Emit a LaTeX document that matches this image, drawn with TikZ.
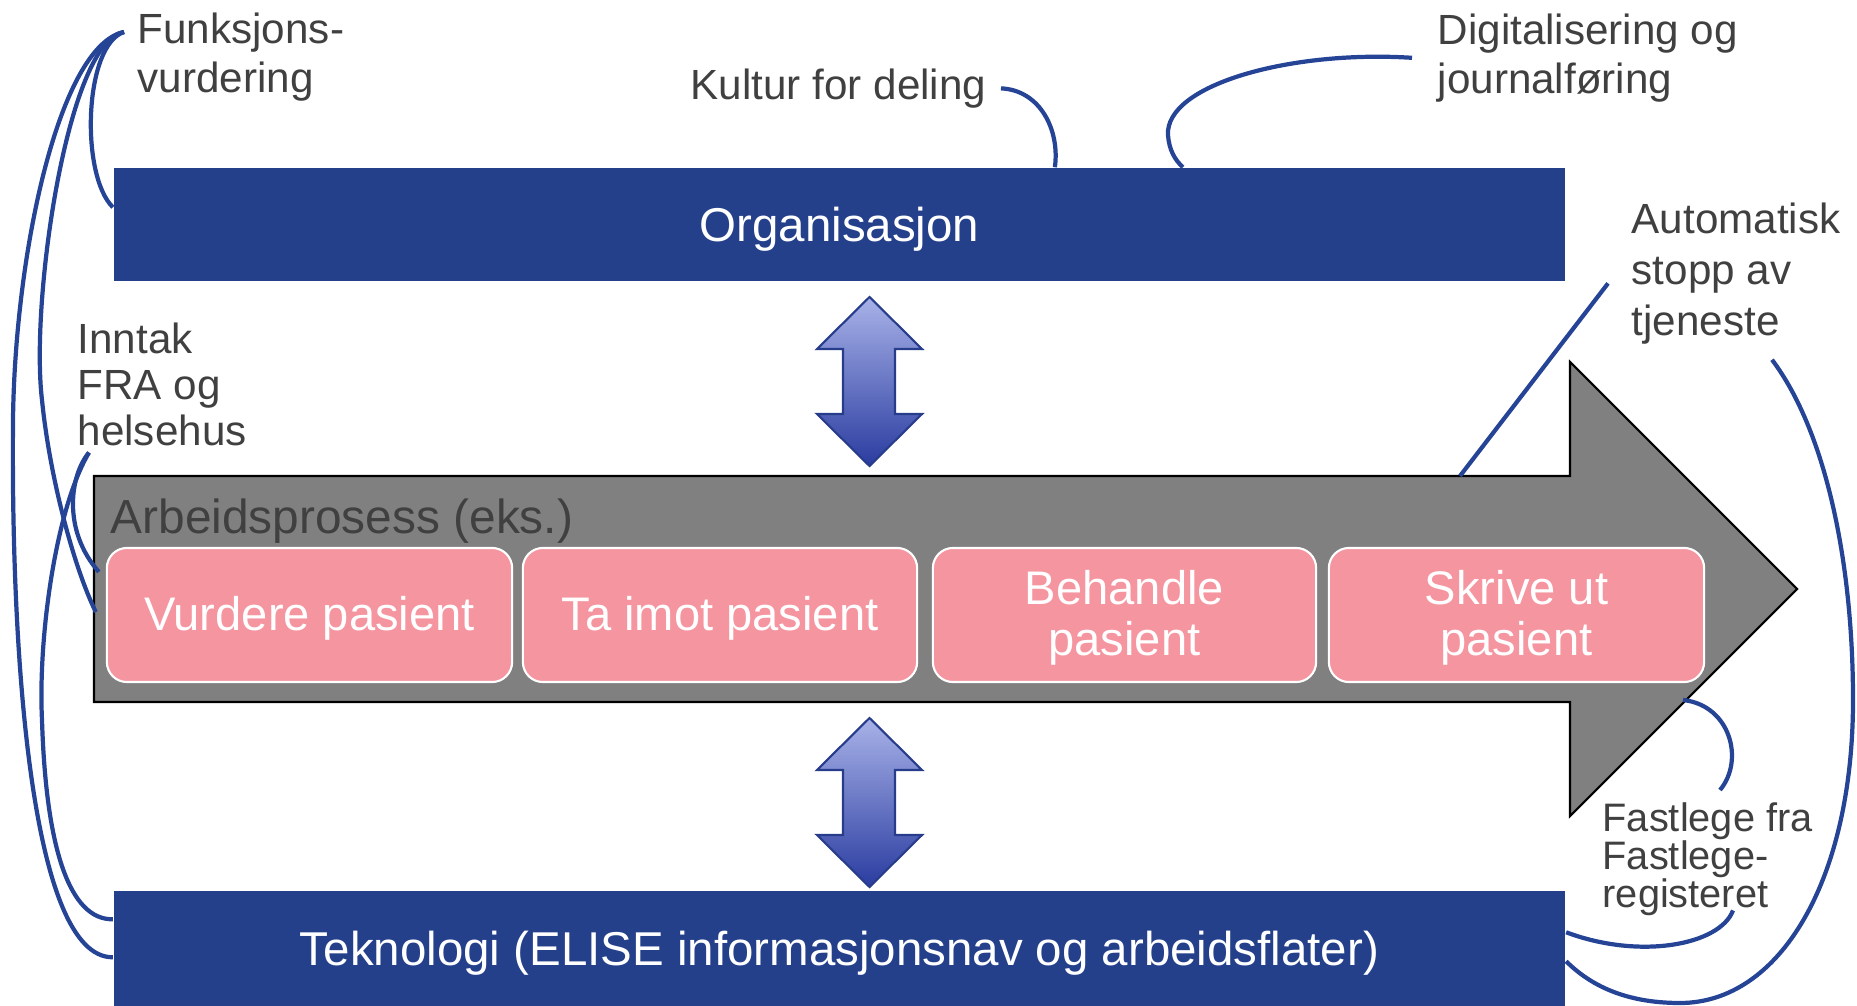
\documentclass[tikz,border=0pt]{standalone}
\usepackage{fontspec}
\setmainfont{Liberation Sans}
\usepackage{xcolor}
\usepackage{tikz}
\usetikzlibrary{calc}
\definecolor{barBlue}{RGB}{36, 64, 139}
\definecolor{linkBlue}{RGB}{38, 68, 150}
\definecolor{stepPink}{RGB}{245, 149, 160}
\definecolor{procGray}{RGB}{128, 128, 128}
\definecolor{noteGray}{RGB}{64, 64, 64}
\definecolor{arrowTop}{RGB}{168, 178, 232}
\definecolor{arrowBottom}{RGB}{42, 60, 160}
\definecolor{arrowEdge}{RGB}{40, 60, 140}
\tikzset{
  barbox/.style={fill=barBlue, text=white, minimum width=14.51cm, minimum height=1.13cm, inner sep=0pt, text depth=0pt, font=\fontsize{13.5}{16}\selectfont},
  stepbox/.style={fill=stepPink, draw=white, line width=0.6pt, rounded corners=0.2cm, text=white, minimum height=1.34cm, inner sep=0pt, text depth=0.04cm, align=center, font=\fontsize{13.4}{14.5}\selectfont},
  note/.style={anchor=north west, inner sep=0pt, align=left, text=noteGray, font=\fontsize{12}{13.9}\selectfont},
  link/.style={draw=linkBlue, line width=1.2pt},
  dblarrow/.style={top color=arrowTop, bottom color=arrowBottom, draw=arrowEdge, line width=0.6pt}
}

\begin{document}
\begin{tikzpicture}[x=0.01cm, y=-0.01cm]
\useasboundingbox (0,0) rectangle (1857,1006);
% Process arrow
\draw[fill=procGray, line width=0.6pt] (94,476) -- (1570,476) -- (1570,362) -- (1797,589) -- (1570,816) -- (1570,702) -- (94,702) -- cycle;
\coordinate (bodyTop) at (1460,476);
\coordinate (headLow) at (1683,700);
\node[anchor=north west, inner sep=0pt, text=noteGray, font=\fontsize{13.6}{16}\selectfont] (prosess) at (110,498) {Arbeidsprosess (eks.)};

% Steps
\node[stepbox, minimum width=4.05cm] (vurdere) at (309.5,615) {Vurdere pasient};
\node[stepbox, minimum width=3.94cm] (taimot) at (720,615) {Ta imot pasient};
\node[stepbox, minimum width=3.83cm] (behandle) at (1124.5,615) {Behandle\\pasient};
\node[stepbox, minimum width=3.75cm] (skrive) at (1516.5,615) {Skrive ut\\pasient};

% Layers
\node[barbox] (orgBar) at (839.5,224.5) {Organisasjon};
\node[barbox, minimum height=1.15cm] (tekBar) at (839.5,948.5) {Teknologi (ELISE informasjonsnav og arbeidsflater)};

% Up/down arrows
\shadedraw[dblarrow] (869.5,297) -- (922,349) -- (895,349) -- (895,414) -- (922,414) -- (869.5,466) -- (817,414) -- (843,414) -- (843,349) -- (817,349) -- cycle;
\shadedraw[dblarrow, shift={(0,421)}] (869.5,297) -- (922,349) -- (895,349) -- (895,414) -- (922,414) -- (869.5,466) -- (817,414) -- (843,414) -- (843,349) -- (817,349) -- cycle;

% Notes
\node[note] (funksjon) at (137,12) {Funksjons-\\vurdering};
\node[note] (kultur) at (690,68) {Kultur for deling};
\node[note] (digital) at (1437,13) {Digitalisering og\\journalføring};
\node[note, font=\fontsize{12}{14.5}\selectfont] (automatisk) at (1631,202) {Automatisk\\stopp av\\tjeneste};
\node[note, font=\fontsize{12}{13.1}\selectfont] (inntak) at (77,322) {Inntak\\FRA og\\helsehus};
\node[note, font=\fontsize{11.3}{10.8}\selectfont] (fastlege) at (1602,802) {Fastlege fra\\Fastlege-\\registeret};

% Links
\coordinate (fStart) at ($(funksjon.north west)+(-13,20)$);
\coordinate (iStart) at ($(inntak.south west)+(12,6)$);
\draw[link] (fStart) .. controls (84,45) and (80,175) .. ($(orgBar.north west)+(0,40)$);
\draw[link] (fStart) .. controls (68,40) and (30,300) .. (42,400) .. controls (50,480) and (75,570) .. ($(vurdere.west)+(-10,-3)$);
\draw[link] (fStart) .. controls (60,45) and (15,250) .. (13,420) .. controls (11,650) and (30,958) .. ($(tekBar.north west)+(0,67)$);
\draw[link] (iStart) .. controls (70,475) and (62,530) .. ($(vurdere.north west)+(-7,25)$);
\draw[link] (iStart) .. controls (55,510) and (38,640) .. (42,720) .. controls (46,850) and (70,920) .. ($(tekBar.north west)+(0,29)$);
\draw[link] ($(kultur.east)+(14,0)$) .. controls (1040,90) and (1060,130) .. ($(orgBar.north west)+(942,0)$);
\draw[link] ($(digital.west)+(-25,0)$) .. controls (1290,50) and (1165,85) .. (1168,135) .. controls (1169,150) and (1175,160) .. ($(orgBar.north west)+(1070,0)$);
\draw[link] ($(automatisk.west)+(-23,10)$) -- (bodyTop);
\draw[link] ($(automatisk.south west)+(141,15)$) .. controls (1825,430) and (1853,560) .. (1853,700) .. controls (1853,880) and (1780,1003) .. (1680,1003) .. controls (1625,1003) and (1590,985) .. ($(tekBar.north east)+(0,71)$);
\draw[link] (headLow) .. controls (1730,705) and (1745,760) .. ($(fastlege.north west)+(118,-12)$);
\draw[link] ($(fastlege.south west)+(131,-6)$) .. controls (1720,945) and (1640,960) .. ($(tekBar.north east)+(0,42)$);
\end{tikzpicture}
\end{document}
